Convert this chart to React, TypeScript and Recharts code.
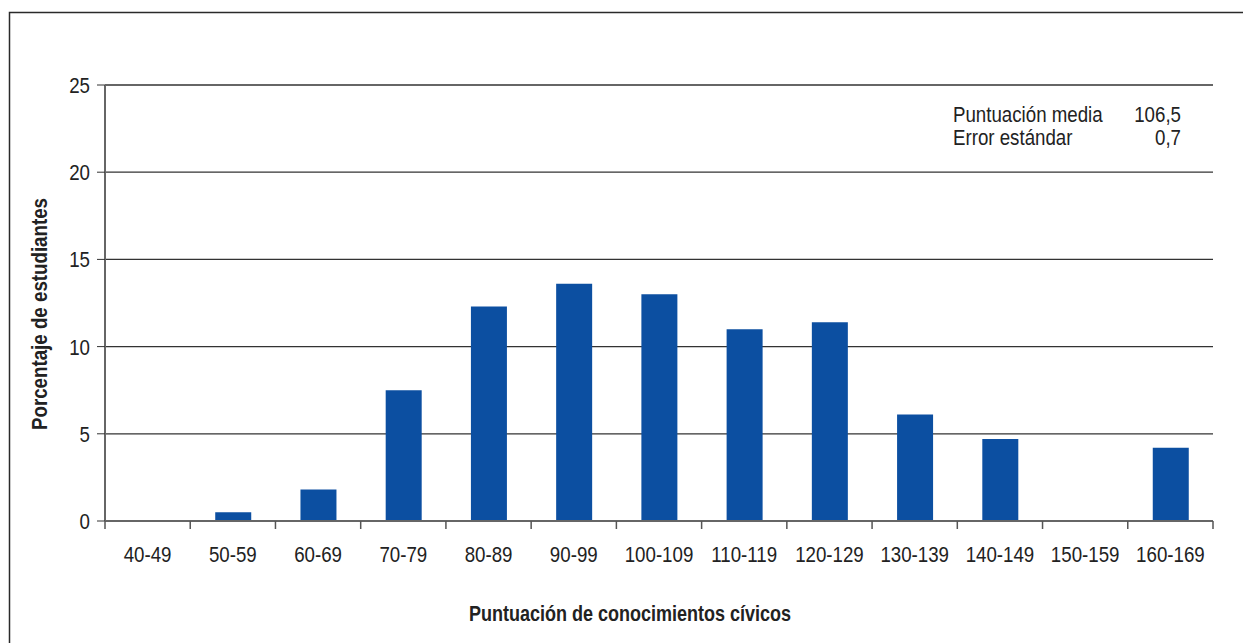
import { BarChart, Bar, XAxis, YAxis, CartesianGrid } from "recharts"

// score bands and share of students (%)
const bands = [
  "40-49", "50-59", "60-69", "70-79", "80-89", "90-99", "100-109",
  "110-119", "120-129", "130-139", "140-149", "150-159", "160-169",
]
const percents = [0, 0.5, 1.8, 7.5, 12.3, 13.6, 13.0, 11.0, 11.4, 6.1, 4.7, 0, 4.2]
const yTicks = [0, 5, 10, 15, 20, 25]
const statLabels = ["Puntuación media", "Error estándar"]
const statValues = ["106,5", "0,7"]

// no narrow font installed, so squeeze Liberation Sans horizontally
const FONT = "'Liberation Sans', Arial, sans-serif"
const SQUEEZE = 0.85
const BAR = "#0c4fa1"
const INK = "#222"
const W = 1243
const H = 643

const data = bands.map((band, i) => ({ band, pct: percents[i] }))

function Narrow({ x, y, anchor = "start", size = 22, children }: any) {
  return (
    <text
      transform={`translate(${x},${y}) scale(${SQUEEZE},1)`}
      textAnchor={anchor}
      fontSize={size}
      fontFamily={FONT}
      fill={INK}
    >
      {children}
    </text>
  )
}

function BandTick(props: any) {
  const { x, y, payload, index, visibleTicksCount } = props
  const half = payload?.offset ?? 1108 / 13 / 2
  const last = index === visibleTicksCount - 1
  return (
    <g>
      <line x1={x - half} x2={x - half} y1={y} y2={y + 8} stroke="#555" strokeWidth={1.5} />
      {last && <line x1={x + half} x2={x + half} y1={y} y2={y + 8} stroke="#555" strokeWidth={1.5} />}
      <Narrow x={x} y={y + 41} anchor="middle">{payload.value}</Narrow>
    </g>
  )
}

function PctTick(props: any) {
  const { x, y, payload } = props
  return <Narrow x={x} y={y + 8} anchor="end">{payload.value}</Narrow>
}

export default function App() {
  return (
    <div style={{ position: "absolute", left: 0, top: 0, width: W, height: H, background: "#fff" }}>
      <BarChart
        width={W}
        height={H}
        data={data}
        margin={{ top: 85, right: 30, left: 45, bottom: 82 }}
        barSize={36}
      >
        <CartesianGrid vertical={false} stroke="#333" strokeWidth={1.3} />
        <XAxis
          dataKey="band"
          height={40}
          tickSize={0}
          tickMargin={0}
          tickLine={false}
          axisLine={{ stroke: "#666", strokeWidth: 2 }}
          tick={<BandTick />}
          interval={0}
        />
        <YAxis
          width={60}
          domain={[0, 25]}
          ticks={yTicks}
          tickSize={8}
          tickMargin={7}
          axisLine={{ stroke: "#666", strokeWidth: 2 }}
          tickLine={{ stroke: "#333" }}
          tick={<PctTick />}
        />
        <YAxis
          yAxisId="edge"
          orientation="right"
          width={0}
          tick={false}
          tickLine={false}
          axisLine={{ stroke: "#666", strokeWidth: 2 }}
        />
        <Bar dataKey="pct" fill={BAR} isAnimationActive={false} />
      </BarChart>

      <svg
        width={W}
        height={H}
        style={{ position: "absolute", left: 0, top: 0, pointerEvents: "none" }}
      >
        <polyline points={`9.5,${H} 9.5,12.5 ${W},12.5`} fill="none" stroke="#2a2a2a" strokeWidth={1.5} />
        {statLabels.map((label, i) => (
          <g key={label}>
            <Narrow x={953} y={122 + i * 23}>{label}</Narrow>
            <Narrow x={1181} y={122 + i * 23} anchor="end">{statValues[i]}</Narrow>
          </g>
        ))}
        <text
          x={630}
          y={621}
          textAnchor="middle"
          fontFamily={FONT}
          fontWeight="bold"
          fontSize={22}
          fill={INK}
          textLength={322}
          lengthAdjust="spacingAndGlyphs"
        >
          Puntuación de conocimientos cívicos
        </text>
        <text
          transform="translate(47,314) rotate(-90)"
          textAnchor="middle"
          fontFamily={FONT}
          fontWeight="bold"
          fontSize={22}
          fill={INK}
          textLength={232}
          lengthAdjust="spacingAndGlyphs"
        >
          Porcentaje de estudiantes
        </text>
      </svg>
    </div>
  )
}
